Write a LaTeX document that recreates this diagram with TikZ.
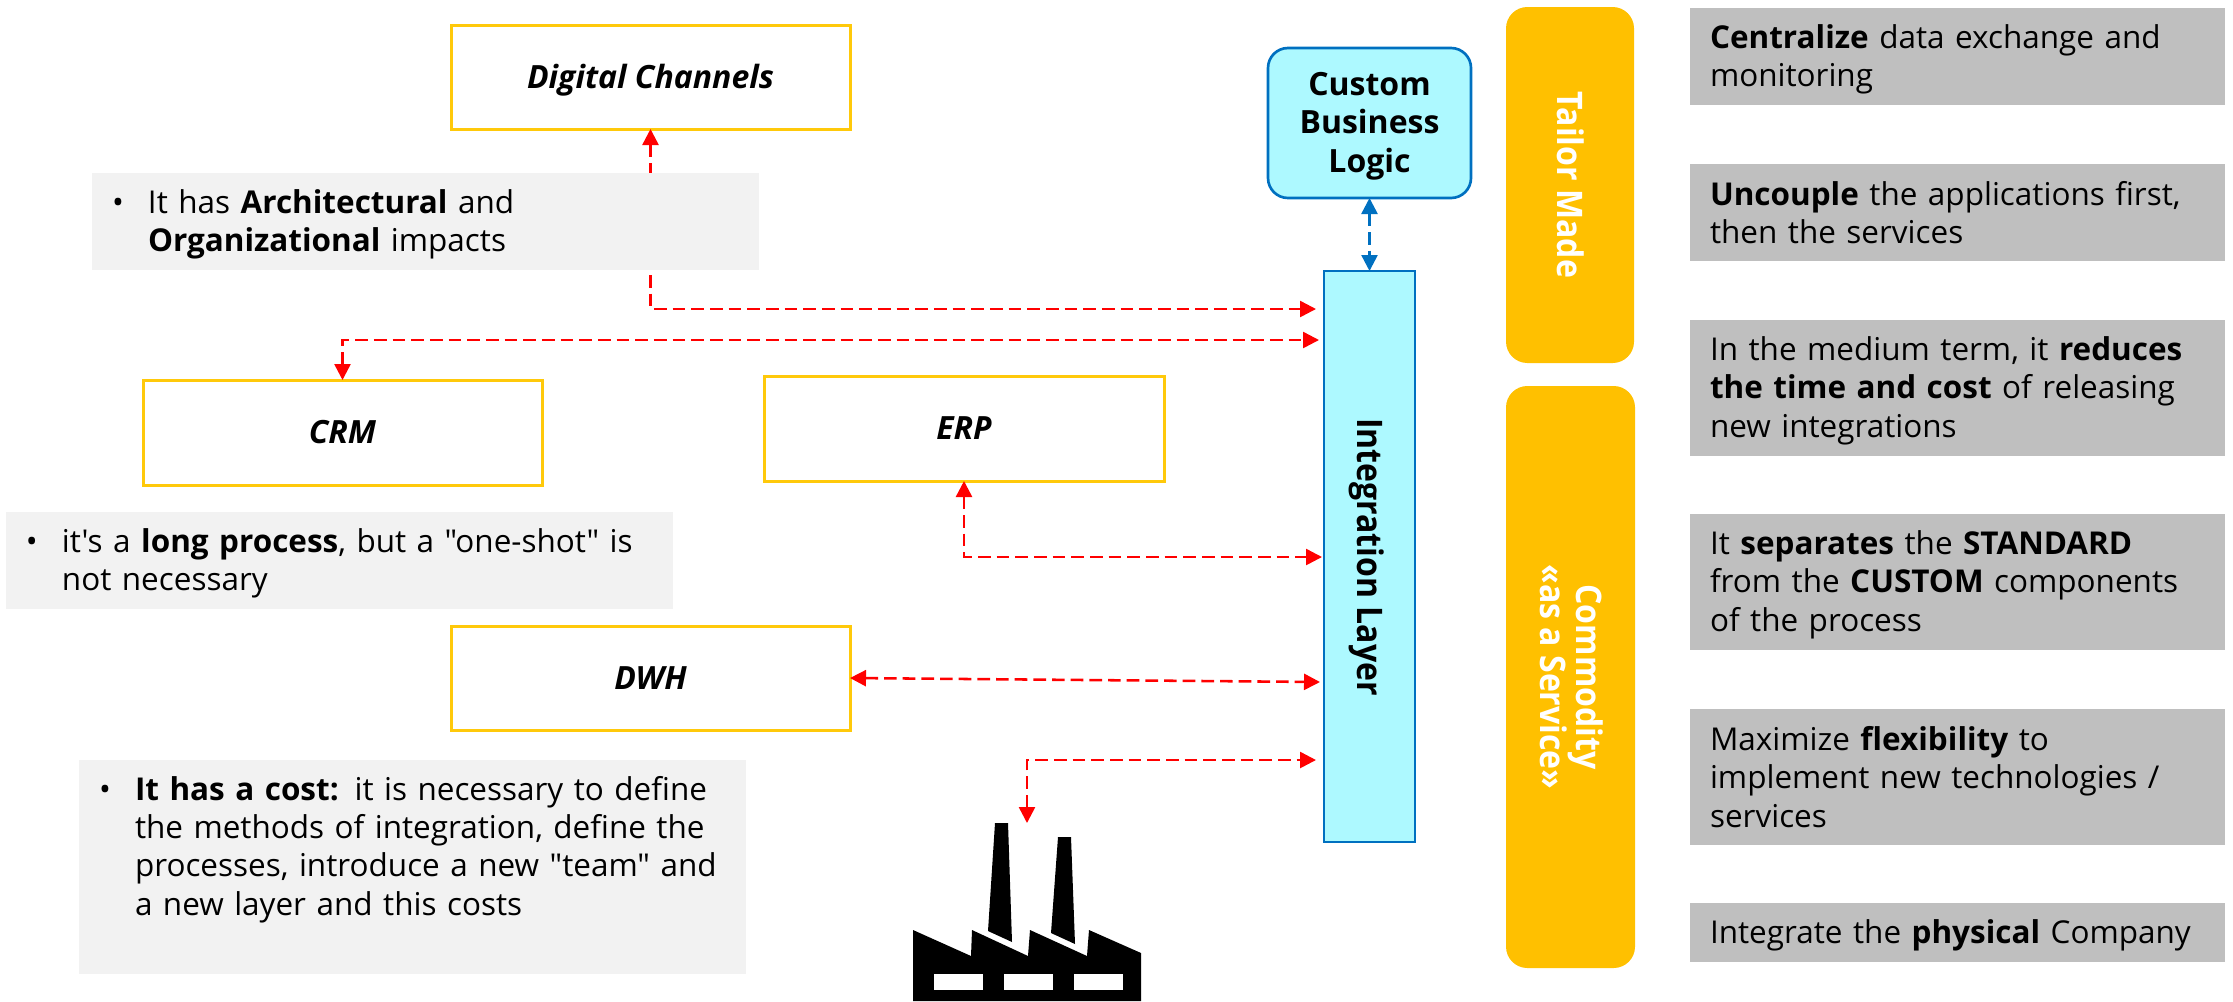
\documentclass[tikz,border=0pt]{standalone}
\usepackage{fontspec}
\setmainfont{Open Sans}[Ligatures=TeXOff]
\usetikzlibrary{arrows.meta}
\definecolor{yline}{HTML}{FFC90A}
\definecolor{capsulefill}{HTML}{FFC000}
\definecolor{skyfill}{HTML}{ADF9FF}
\definecolor{blueline}{HTML}{0070C0}
\definecolor{lightgray}{HTML}{F2F2F2}
\definecolor{midgray}{HTML}{BFBFBF}
\definecolor{linkred}{HTML}{FF0000}
\newcommand{\vs}{\rule[-4.25pt]{0pt}{26.25pt}}
\newcommand{\bul}{\makebox[27pt][l]{•}}
\newcommand{\hng}{\hspace*{27pt}}
\tikzset{
  txt/.style={font=\fontsize{23.6}{28.75}\selectfont},
  ybox/.style={draw=yline,line width=2.25pt,fill=white,inner sep=0pt,outer sep=0pt,
    font=\fontsize{24}{28.75}\selectfont\bfseries\itshape,text height=17pt,text depth=0pt},
  gbox/.style={txt,fill=midgray,inner xsep=15pt,inner ysep=0pt,outer sep=0pt,align=left,text width={495*0.75pt},
    minimum width={535*0.75pt}},
  lbox/.style={txt,fill=lightgray,inner xsep=15pt,inner ysep=0pt,outer sep=0pt,align=left,text width={627*0.75pt},
    minimum width={667*0.75pt}},
  sky/.style={draw=blueline,line width=2pt,fill=skyfill,inner sep=0pt,outer sep=0pt},
  capsule/.style={fill=capsulefill,rounded corners=16pt,inner sep=0pt,outer sep=0pt},
  sidetext/.style={rotate=-90,yscale=1.1,inner sep=0pt,align=center,
    font=\fontsize{24}{24.5}\selectfont\bfseries},
  redlink/.style={draw=linkred,line width=1.9pt,dash pattern=on 9.5pt off 4.5pt,
    {Triangle[length=12pt,width=12pt]}-{Triangle[length=12pt,width=12pt]}},
  bluelink/.style={draw=blueline,line width=1.9pt,dash pattern=on 9.5pt off 4.5pt,
    {Triangle[length=12pt,width=12pt]}-{Triangle[length=12pt,width=12pt]}},
  plant/.style={fill=black,draw=none},
  plantwin/.style={fill=white,draw=none},
}
\begin{document}
\begin{tikzpicture}[x=0.75pt,y=-0.75pt]
\useasboundingbox (0,0) rectangle (2233,1001);

% yellow boxes
\node[ybox,minimum width={399*0.75pt},minimum height={104*0.75pt}] (digital) at (650.5,77) {Digital Channels};
\node[ybox,minimum width={399*0.75pt},minimum height={105*0.75pt}] (crm) at (342.5,432.5) {CRM};
\node[ybox,minimum width={400*0.75pt},minimum height={105*0.75pt}] (erp) at (964,428.5) {ERP};
\node[ybox,minimum width={399*0.75pt},minimum height={104*0.75pt}] (dwh) at (650.5,678) {DWH};

% blue boxes
\node[sky,rounded corners=15pt,align=center,minimum width={203*0.75pt},minimum height={150*0.75pt},
  font=\fontsize{24}{28.75}\selectfont\bfseries] (custom) at (1369.5,123) {\vs Custom\\\vs Business\\\vs Logic};
\node[sky,minimum width={91*0.75pt},minimum height={571*0.75pt}] (integration) at (1369.5,556.5) {};
\node[sidetext,text height=17pt,text depth=0pt] (integrationtext) at (1369.5,557) {Integration Layer};

% capsules
\node[capsule,minimum width={128*0.75pt},minimum height={356*0.75pt}] (tailor) at (1570,185) {};
\node[sidetext,text=white,text height=17pt,text depth=0pt] (tailortext) at (1570,185) {Tailor Made};
\node[capsule,minimum width={129*0.75pt},minimum height={582*0.75pt}] (commodity) at (1570.5,677) {};
\node[sidetext,text=white] (commoditytext) at (1572,677) {Commodity\\«as a Service»};

% free connector ends
\coordinate (inA) at (1316,309);
\coordinate (inB) at (1319,340);
\coordinate (inC) at (1322,557);
\coordinate (inD) at (1320,682);
\coordinate (inE) at (1316,760);
\coordinate (plantTop) at (1027,823);

% connectors
\draw[redlink] (digital.south) |- (inA);
\draw[redlink] (crm.north) |- (inB);
\draw[redlink] (erp.south) |- (inC);
\draw[redlink] (dwh.east) -- (inD);
\draw[redlink] (plantTop) |- (inE);
\draw[bluelink] (custom.south) -- (integration.north);

% left notes
\node[lbox,minimum height={97*0.75pt}] (noteA) at (425.5,221.5)
  {\bul\vs It has \textbf{Architectural} and\\\hng\vs\textbf{Organizational} impacts};
\node[lbox,minimum height={97*0.75pt}] (noteB) at (339.5,560.5)
  {\bul\vs it's a \textbf{long process}, but a "one-shot" is\\\hng\vs not necessary};
\node[lbox,minimum height={214*0.75pt}] (noteC) at (412.5,867)
  {\bul\vs\textbf{It has a cost:} it is necessary to define\\\hng\vs the methods of integration, define the\\\hng\vs processes, introduce a new "team" and\\\hng\vs a new layer and this costs\\[3pt]\vs};

% right notes
\node[gbox,minimum height={97*0.75pt}] (r1) at (1957.5,56.5) {\vs\textbf{Centralize} data exchange and\\\vs monitoring};
\node[gbox,minimum height={97*0.75pt}] (r2) at (1957.5,212.5) {\vs\textbf{Uncouple} the applications first,\\\vs then the services};
\node[gbox,minimum height={136*0.75pt}] (r3) at (1957.5,388) {\vs In the medium term, it \textbf{reduces}\\\vs\textbf{the time and cost} of releasing\\\vs new integrations};
\node[gbox,minimum height={136*0.75pt}] (r4) at (1957.5,582) {\vs It \textbf{separates} the \textbf{STANDARD}\\\vs from the \textbf{CUSTOM} components\\\vs of the process};
\node[gbox,minimum height={136*0.75pt}] (r5) at (1957.5,777) {\vs Maximize \textbf{flexibility} to\\\vs implement new technologies /\\\vs services};
\node[gbox,minimum height={59*0.75pt}] (r6) at (1957.5,932.5) {\vs Integrate the \textbf{physical} Company};

% factory
\fill[plant] (913,930) -- (971,956) -- (972,930) -- (1028,956) -- (1030,930) -- (1087,956) -- (1089,930) -- (1141,953) -- (1141,1001) -- (913,1001) -- cycle;
\fill[plant] (995,823) -- (1008,823) -- (1012,942) -- (988,931) -- cycle;
\fill[plant] (1058,837) -- (1071,837) -- (1075,944) -- (1051,933) -- cycle;
\fill[plantwin] (934,974) rectangle (983,990);
\fill[plantwin] (1004,974) rectangle (1053,990);
\fill[plantwin] (1074,974) rectangle (1123,990);
\end{tikzpicture}
\end{document}
